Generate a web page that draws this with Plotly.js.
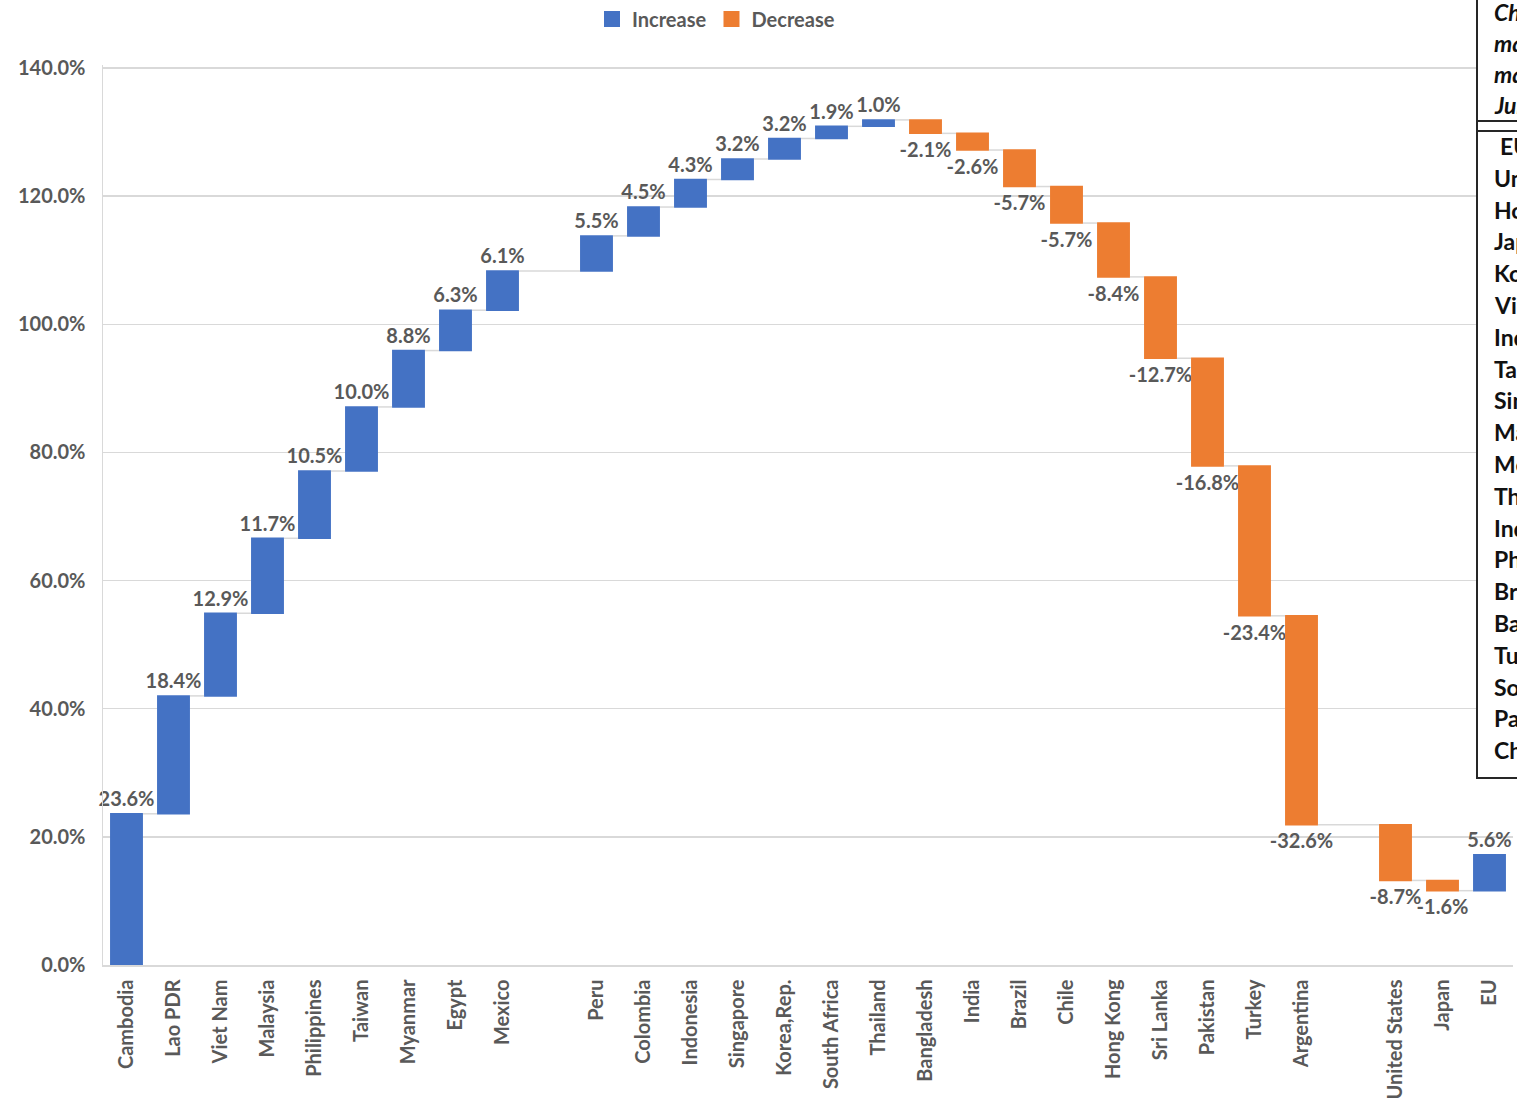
<!DOCTYPE html>
<html>
<head>
<meta charset="utf-8">
<script src="https://cdn.plot.ly/plotly-3.0.1.min.js"></script>
<style>
  html, body { margin: 0; padding: 0; background: #ffffff; }
  #chart { width: 1517px; height: 1106px; }
</style>
</head>
<body>
<div id="chart"></div>
<script>
// Change in share by economy, drawn as a waterfall (percentage points)
const countries = [
  "Cambodia", "Lao PDR", "Viet Nam", "Malaysia", "Philippines", "Taiwan", "Myanmar", "Egypt", "Mexico",
  "Peru", "Colombia", "Indonesia", "Singapore", "Korea,Rep.", "South Africa", "Thailand", "Bangladesh",
  "India", "Brazil", "Chile", "Hong Kong", "Sri Lanka", "Pakistan", "Turkey", "Argentina",
  "United States", "Japan", "EU"
];
const changes = [
  23.6, 18.4, 12.9, 11.7, 10.5, 10.0, 8.8, 6.3, 6.1,
  5.5, 4.5, 4.3, 3.2, 3.2, 1.9, 1.0, -2.1,
  -2.6, -5.7, -5.7, -8.4, -12.7, -16.8, -23.4, -32.6,
  -8.7, -1.6, 5.6
];
// an empty slot on the x axis follows each of these economies
const groupEnds = ["Mexico", "Argentina"];
const yTicks = [0, 20, 40, 60, 80, 100, 120, 140];

// side table (runs off the right edge of the page)
const tableHeader = ["Change in", "market", "market", "June"];
const tableRows = [
  "EU", "United States", "Hong Kong", "Japan", "Korea", "Viet Nam", "India", "Taiwan", "Singapore",
  "Malaysia", "Mexico", "Thailand", "Indonesia", "Philippines", "Brazil", "Bangladesh", "Turkey",
  "South Africa", "Pakistan", "China"
];

// slot index of every economy on the x axis
const slots = [];
let s = 0;
countries.forEach(c => {
  slots.push(s);
  s += groupEnds.includes(c) ? 2 : 1;
});
const nSlots = s;

const FAMILY = "Lato, 'Open Sans', sans-serif";
const labelFont = { family: FAMILY, size: 20, weight: "bold", color: "#595959" };
const BLUE = "#4472C4", ORANGE = "#ED7D31", GRID = "#D9D9D9";

// page geometry; the y range leaves a little room above the 140% gridline
const W = 1517, H = 1106;
const Y_TOP = 140.47;
const M = { l: 103, r: 4, t: 65, b: 141, autoexpand: false };
const pw = W - M.l - M.r, ph = H - M.t - M.b;
const px = x => (x - M.l) / pw;
const py = y => (H - M.b - y) / ph;

const waterfall = {
  type: "waterfall",
  orientation: "v",
  x: slots,
  y: changes,
  measure: changes.map(() => "relative"),
  text: changes.map(v => v.toFixed(1) + "%"),
  textposition: "outside",
  textfont: labelFont,
  constraintext: "none",
  cliponaxis: false,
  increasing: { marker: { color: BLUE, line: { width: 0 } } },
  decreasing: { marker: { color: ORANGE, line: { width: 0 } } },
  connector: { mode: "between", line: { color: GRID, width: 1.5 } },
  showlegend: false,
  hoverinfo: "skip"
};

const legendIncrease = {
  type: "scatter", mode: "markers", x: [null], y: [null], name: "Increase",
  marker: { symbol: "square", size: 16, color: BLUE }, showlegend: true
};
const legendDecrease = {
  type: "scatter", mode: "markers", x: [null], y: [null], name: "Decrease",
  marker: { symbol: "square", size: 16, color: ORANGE }, showlegend: true
};

const tableLeft = 1477, tableBottom = 778;
const shapes = [
  { type: "rect", xref: "paper", yref: "paper", x0: px(tableLeft), x1: px(W + 20), y0: py(tableBottom), y1: py(-20),
    fillcolor: "#ffffff", line: { color: "#262626", width: 2 }, layer: "above" },
  { type: "line", xref: "paper", yref: "paper", x0: px(tableLeft), x1: px(W + 20), y0: py(121), y1: py(121),
    line: { color: "#262626", width: 2 } },
  { type: "line", xref: "paper", yref: "paper", x0: px(tableLeft), x1: px(W + 20), y0: py(131), y1: py(131),
    line: { color: "#262626", width: 2 } }
];

const tableFont = { family: FAMILY, size: 23, weight: "bold", color: "#111111" };
const annotations = [];
tableHeader.forEach((t, i) => {
  annotations.push({
    xref: "paper", yref: "paper", x: px(1492), y: py(12 + i * 31), xanchor: "left", yanchor: "middle",
    text: t, showarrow: false, font: Object.assign({}, tableFont, { style: "italic" })
  });
});
tableRows.forEach((t, i) => {
  annotations.push({
    xref: "paper", yref: "paper", x: px(i === 0 ? 1498 : 1492), y: py(146 + i * 31.8), xanchor: "left", yanchor: "middle",
    text: t, showarrow: false, font: tableFont
  });
});

const layout = {
  width: W, height: H,
  margin: M,
  paper_bgcolor: "#ffffff",
  plot_bgcolor: "#ffffff",
  waterfallgap: 0.3,
  font: labelFont,
  showlegend: true,
  legend: {
    orientation: "h", x: px(716), xanchor: "center", y: py(19), yanchor: "middle",
    font: labelFont, bgcolor: "rgba(0,0,0,0)", itemwidth: 30
  },
  xaxis: {
    range: [-0.5, nSlots - 0.5],
    tickvals: slots, ticktext: countries,
    tickangle: -90, tickfont: labelFont, ticks: "",
    ticklabelstandoff: 5,
    showgrid: false, zeroline: false,
    showline: true, linecolor: GRID, linewidth: 1.5,
    fixedrange: true
  },
  yaxis: {
    range: [0, Y_TOP],
    tickvals: yTicks, ticktext: yTicks.map(v => v.toFixed(1) + "%"),
    tickfont: labelFont, ticks: "",
    ticklabelstandoff: 12,
    showgrid: true, gridcolor: GRID, gridwidth: 1.5,
    zeroline: false,
    showline: true, linecolor: GRID, linewidth: 1.5,
    fixedrange: true
  },
  shapes: shapes,
  annotations: annotations
};

Plotly.newPlot("chart", [waterfall, legendIncrease, legendDecrease], layout, { displayModeBar: false, staticPlot: true });
</script>
</body>
</html>
